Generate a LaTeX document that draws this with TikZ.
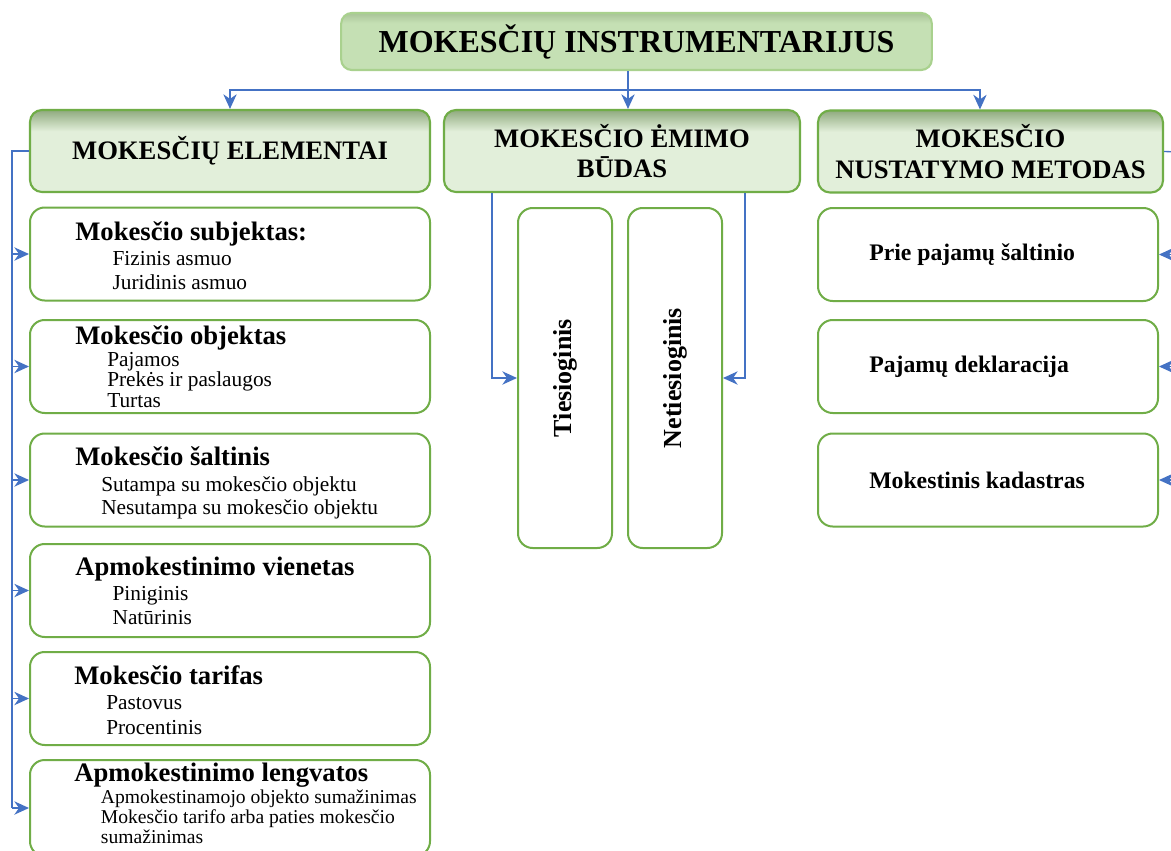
\documentclass[tikz,border=0pt]{standalone}
\usepackage{fontspec}
\setmainfont{Liberation Serif}
\usetikzlibrary{arrows.meta, positioning, calc}
\definecolor{txgreen}{HTML}{70AD47}
\definecolor{txlight}{HTML}{A9D18E}
\definecolor{txpale}{HTML}{E2EFDA}
\definecolor{txmid}{HTML}{C5E0B4}
\definecolor{txshade}{HTML}{8FAA7E}
\definecolor{txttop}{HTML}{A9C498}
\definecolor{txblue}{HTML}{4472C4}
\pgfdeclareverticalshading{hdrshade}{100bp}{color(0bp)=(txpale); color(25bp)=(txpale); color(62bp)=(txpale); color(75bp)=(txshade); color(100bp)=(txshade)}
\pgfdeclareverticalshading{ttlshade}{100bp}{color(0bp)=(txmid); color(25bp)=(txmid); color(66bp)=(txmid); color(75bp)=(txttop); color(100bp)=(txttop)}
\newcommand{\elhead}[1]{{\fontsize{20}{18}\selectfont\bfseries #1}}

\begin{document}
\begin{tikzpicture}[
  x=0.75pt, y=-0.75pt,
  ttlbox/.style={rectangle, rounded corners=8pt, draw=txlight, line width=1.6pt, shading=ttlshade, minimum width=443pt, minimum height=42.75pt, font=\fontsize{24}{28}\selectfont\bfseries},
  hdrbox/.style={rectangle, rounded corners=9pt, draw=txgreen, line width=1.6pt, shading=hdrshade, minimum height=61.5pt, align=center, inner sep=2pt, font=\fontsize{20}{23}\selectfont\bfseries},
  elembox/.style={rectangle, rounded corners=11pt, draw=txgreen, line width=1.5pt, fill=white, minimum width=300pt, minimum height=69.75pt},
  elemtxt/.style={anchor=north west, inner sep=0pt, align=left},
  methbox/.style={rectangle, rounded corners=11pt, draw=txgreen, line width=1.5pt, fill=white, minimum width=255pt, minimum height=69.75pt},
  methtxt/.style={anchor=west, inner sep=0pt, font=\fontsize{17.8}{20}\selectfont\bfseries},
  waybox/.style={rectangle, rounded corners=11pt, draw=txgreen, line width=1.5pt, fill=white, minimum width=70.5pt, minimum height=255pt},
  waytxt/.style={rotate=90, inner sep=0pt, font=\fontsize{19.5}{22}\selectfont\bfseries},
  link/.style={txblue, line width=1pt},
  arr/.style={link, -{Stealth[length=11pt, width=10pt, inset=3.5pt]}},
]
\path[use as bounding box, fill=white] (0,0) rectangle (1171,850);

% title and the three groups
\node[ttlbox] (ttl) at (636.5,41.5) {MOKESČIŲ INSTRUMENTARIJUS};
\node[hdrbox, minimum width=300pt] (hdr1) at (230,151) {MOKESČIŲ ELEMENTAI};
\node[hdrbox, minimum width=267pt] (hdr2) at (622,151) {MOKESČIO ĖMIMO\\BŪDAS};
\node[hdrbox, minimum width=258.75pt] (hdr3) at (990.5,151.5) {MOKESČIO\\NUSTATYMO METODAS};

\coordinate (bus) at (628,90);
\draw[link] (ttl.south -| bus) -- (bus);
\draw[arr] (bus) -| (hdr1.north);
\draw[arr] (bus) -- (bus |- hdr2.north);
\draw[arr] (bus) -| ([xshift=-7.9pt]hdr3.north);

% left column: elements
\node[elembox] (e1) at (230,254) {};
\node[elembox] (e2) at (230,366.5) {};
\node[elembox] (e3) at (230,480) {};
\node[elembox] (e4) at (230,590.5) {};
\node[elembox] (e5) at (230,698.5) {};
\node[elembox, minimum height=72pt] (e6) at (230,808) {};

\node[elemtxt, font=\fontsize{16}{18}\selectfont] (t1) at (75,221) {\elhead{Mokesčio subjektas:}\\[0.75pt]\hspace*{28pt}Fizinis asmuo\\\hspace*{28pt}Juridinis asmuo};
\node[elemtxt, font=\fontsize{16}{15.4}\selectfont] (t2) at (75,325) {\elhead{Mokesčio objektas}\\[1.1pt]\hspace*{24pt}Pajamos\\\hspace*{24pt}Prekės ir paslaugos\\\hspace*{24pt}Turtas};
\node[elemtxt, font=\fontsize{16}{17.5}\selectfont] (t3) at (75,446) {\elhead{Mokesčio šaltinis}\\[2pt]\hspace*{19.5pt}Sutampa su mokesčio objektu\\\hspace*{19.5pt}Nesutampa su mokesčio objektu};
\node[elemtxt, font=\fontsize{16}{18}\selectfont] (t4) at (75,557) {\elhead{Apmokestinimo vienetas}\\[0.75pt]\hspace*{28pt}Piniginis\\\hspace*{28pt}Natūrinis};
\node[elemtxt, font=\fontsize{16}{18.75}\selectfont] (t5) at (74,665) {\elhead{Mokesčio tarifas}\\\hspace*{24pt}Pastovus\\\hspace*{24pt}Procentinis};
\node[elemtxt, font=\fontsize{14.7}{15}\selectfont] (t6) at (74,763) {\elhead{Apmokestinimo lengvatos}\\[1.5pt]\hspace*{20pt}Apmokestinamojo objekto sumažinimas\\\hspace*{20pt}Mokesčio tarifo arba paties mokesčio\\\hspace*{20pt}sumažinimas};

\coordinate (lbus) at (12,151);
\draw[link] (hdr1.west) -- (lbus) -- (lbus |- e6.west);
\foreach \n in {e1,e2,e3,e4,e5,e6}
  \draw[arr] (lbus |- \n.west) -- (\n.west);

% middle column: ways
\node[waybox] (tb) at (565,378) {};
\node[waybox] (nb) at (675,378) {};
\node[waytxt] (tt) at (tb.center) {Tiesioginis};
\node[waytxt] (nt) at (nb.center) {Netiesioginis};

\draw[arr] ($(hdr2.south)+(-130,0)$) |- (tb.west);
\draw[arr] ($(hdr2.south)+(123,0)$) |- (nb.east);

% right column: methods
\node[methbox] (r1) at (988,254.5) {};
\node[methbox] (r2) at (988,366.5) {};
\node[methbox] (r3) at (988,480) {};
\node[methtxt] (m1) at ($(r1.west)+(52,0)$) {Prie pajamų šaltinio};
\node[methtxt] (m2) at ($(r2.west)+(52,0)$) {Pajamų deklaracija};
\node[methtxt] (m3) at ($(r3.west)+(52,0)$) {Mokestinis kadastras};

\coordinate (rbus) at (1180,152);
\draw[link] (hdr3.east) -- (rbus) -- (rbus |- r3.east);
\foreach \n in {r1,r2,r3}
  \draw[arr] (rbus |- \n.east) -- (\n.east);

\end{tikzpicture}
\end{document}
